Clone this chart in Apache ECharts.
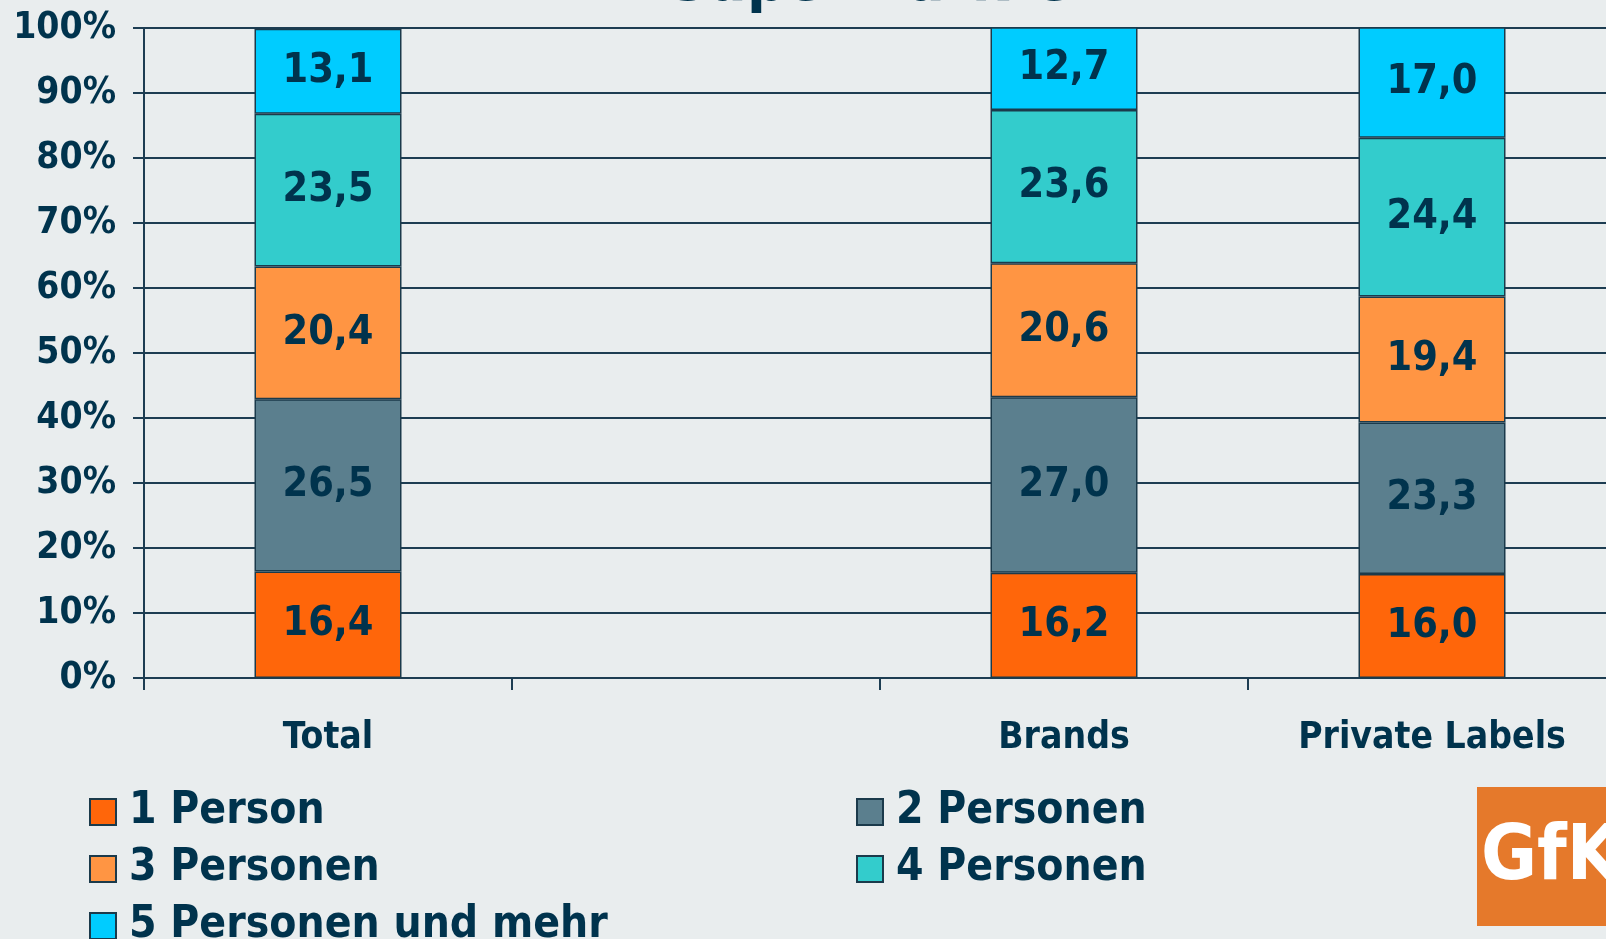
<!DOCTYPE html>
<html>
<head>
<meta charset="utf-8">
<title>Supermärkte – Haushaltsgröße</title>
<script src="https://cdn.jsdelivr.net/npm/echarts@6/dist/echarts.min.js"></script>
<style>
  html, body { margin: 0; padding: 0; background: #e9edee; }
  #chart { width: 1606px; height: 939px; }
</style>
</head>
<body>
<div id="chart"></div>
<script>
// Household size shares (%) of shoppers per segment
const categories = ['Total', '', 'Brands', 'Private Labels'];
const seriesNames = ['1 Person', '2 Personen', '3 Personen', '4 Personen', '5 Personen und mehr'];
const person1 = [16.4, null, 16.2, 16.0];
const person2 = [26.5, null, 27.0, 23.3];
const person3 = [20.4, null, 20.6, 19.4];
const person4 = [23.5, null, 23.6, 24.4];
const person5 = [13.1, null, 12.7, 17.0];
const yTickLabels = ['0%', '10%', '20%', '30%', '40%', '50%', '60%', '70%', '80%', '90%', '100%'];

const INK = '#00334d';
const FONT = '"DejaVu Sans Condensed", "DejaVu Sans", Verdana, sans-serif';
const colors = ['#ff660a', '#5b7f8e', '#ff9543', '#33cccc', '#00ccff'];
const values = [person1, person2, person3, person4, person5];

const chart = echarts.init(document.getElementById('chart'), null, { renderer: 'canvas' });

const series = seriesNames.map((name, i) => ({
  name: name,
  type: 'bar',
  stack: 'share',
  barWidth: 147,
  data: values[i],
  itemStyle: { color: colors[i], borderColor: '#1b3a4b', borderWidth: 1.5 },
  label: {
    show: true,
    position: 'inside',
    color: INK,
    fontFamily: FONT,
    fontWeight: 'bold',
    fontSize: 41,
    formatter: p => p.value == null ? '' : p.value.toFixed(1).replace('.', ',')
  },
  emphasis: { disabled: true }
}));

const legendText = {
  color: INK, fontFamily: FONT, fontWeight: 'bold', fontSize: 44,
  lineHeight: 40, padding: [0, 0, 0, 8]
};

chart.setOption({
  backgroundColor: '#e9edee',
  animation: false,
  color: colors,
  title: {
    text: 'Supermärkte',
    left: 865,
    textAlign: 'center',
    top: -51,
    textStyle: { color: INK, fontFamily: FONT, fontWeight: 'bold', fontSize: 61, lineHeight: 61 }
  },
  grid: { left: 144, top: 28, width: 1472, bottom: 261, outerBoundsMode: 'none', containLabel: false },
  legend: [
    {
      data: ['1 Person', '3 Personen', '5 Personen und mehr'],
      orient: 'vertical', left: 84, top: 785, height: 200, itemGap: 13,
      itemWidth: 26, itemHeight: 26, icon: 'rect',
      textStyle: legendText, selectedMode: false
    },
    {
      data: ['2 Personen', '4 Personen'],
      orient: 'vertical', left: 851, top: 785, height: 200, itemGap: 13,
      itemWidth: 26, itemHeight: 26, icon: 'rect',
      textStyle: legendText, selectedMode: false
    }
  ],
  xAxis: {
    type: 'category',
    data: categories,
    axisLine: { show: true, lineStyle: { color: '#1d3d52', width: 2 } },
    axisTick: { show: true, length: 12, alignWithLabel: false, lineStyle: { color: '#1d3d52', width: 2 } },
    axisLabel: { color: INK, fontFamily: FONT, fontWeight: 'bold', fontSize: 37, margin: 42 },
    splitLine: { show: false }
  },
  yAxis: {
    type: 'value',
    min: 0, max: 100, interval: 10,
    axisLine: { show: true, lineStyle: { color: '#1d3d52', width: 2 } },
    axisTick: { show: true, length: 11, lineStyle: { color: '#1d3d52', width: 2 } },
    axisLabel: {
      color: INK, fontFamily: FONT, fontWeight: 'bold', fontSize: 37, margin: 28,
      formatter: v => yTickLabels[Math.round(v / 10)]
    },
    splitLine: { show: true, lineStyle: { color: '#1d3d52', width: 2 } }
  },
  series: series,
  graphic: [
    {
      type: 'group', left: 1477, top: 787,
      children: [
        { type: 'rect', shape: { x: 0, y: 0, width: 140, height: 139 }, style: { fill: '#e5792b' } },
        {
          type: 'text', x: 4, y: 72,
          style: {
            text: 'GfK', fill: '#ffffff', font: 'bold 76px "DejaVu Sans Condensed", "DejaVu Sans", sans-serif',
            verticalAlign: 'middle', align: 'left'
          }
        }
      ]
    }
  ]
});
</script>
</body>
</html>
